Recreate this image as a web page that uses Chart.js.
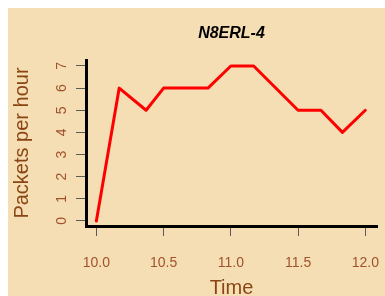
<!DOCTYPE html>
<html>
<head>
<meta charset="utf-8">
<script src="https://cdn.jsdelivr.net/npm/chart.js@4"></script>
<style>
  html, body { margin:0; padding:0; background:#fff; }
  #wrap { position:absolute; left:8px; top:8px; width:377px; height:288px; background:#f5deb3; }
  canvas { display:block; }
</style>
</head>
<body>
<div id="wrap"><canvas id="chart" width="377" height="288"></canvas></div>
<script>
// N8ERL-4 packet rate
const TITLE = "N8ERL-4";
const times = [10.0, 10.17, 10.37, 10.5, 10.83, 11.0, 11.17, 11.5, 11.67, 11.83, 12.0];
const packets = [0, 6, 5, 6, 6, 7, 7, 5, 5, 4, 5];
const xTicks = [10.0, 10.5, 11.0, 11.5, 12.0];
const yTicks = [0, 1, 2, 3, 4, 5, 6, 7];

Chart.defaults.font.family = "'Liberation Sans', Arial, sans-serif";

const tickGrid = { display:true, drawOnChartArea:false, drawTicks:true, tickLength:10, color:"#5a5a5a", lineWidth:1 };
const axisBorder = { display:true, color:"#000", width:3 };

new Chart(document.getElementById("chart"), {
  type:"line",
  data:{ datasets:[{
    data: times.map((t,i)=>({x:t, y:packets[i]})),
    borderColor:"#ff0000", borderWidth:3, pointRadius:0,
    borderJoinStyle:"round", borderCapStyle:"round", tension:0, fill:false
  }]},
  options:{
    responsive:false, animation:false,
    layout:{ padding:{ left:0, right:8, top:0, bottom:0 } },
    plugins:{
      legend:{ display:false }, tooltip:{ enabled:false },
      title:{ display:true, text:TITLE, fullSize:false, color:"#000",
        font:{ size:16, weight:"bold", style:"italic", lineHeight:1.2 },
        padding:{ top:16, bottom:16.8 } }
    },
    scales:{
      x:{ type:"linear", min:9.923, max:12.087,
        afterBuildTicks: s=>{ s.ticks = xTicks.map(v=>({value:v})); },
        // keep the plot box fixed: labels may overhang the right edge a little
        afterFit: s=>{ s.height = 70; s.paddingLeft = 0; s.paddingRight = 0; },
        ticks:{ color:"#a0522d", font:{ size:14 }, padding:19, maxRotation:0, callback:v=>v.toFixed(1) },
        grid: tickGrid, border: axisBorder,
        title:{ display:true, text:"Time", color:"#8b4513", font:{ size:20, lineHeight:1 }, padding:{ top:0, bottom:-2 } }
      },
      y:{ min:-0.23, max:7.27,
        afterBuildTicks: s=>{ s.ticks = yTicks.map(v=>({value:v})); },
        afterFit: s=>{ s.width = 78; },
        ticks:{ color:"#a0522d", font:{ size:14 }, padding:10, minRotation:90, maxRotation:90, crossAlign:"center" },
        grid: tickGrid, border: axisBorder,
        title:{ display:true, text:"Packets per hour", color:"#8b4513", font:{ size:20, lineHeight:1 }, padding:{ top:4, bottom:0 } }
      }
    }
  }
});
</script>
</body>
</html>
